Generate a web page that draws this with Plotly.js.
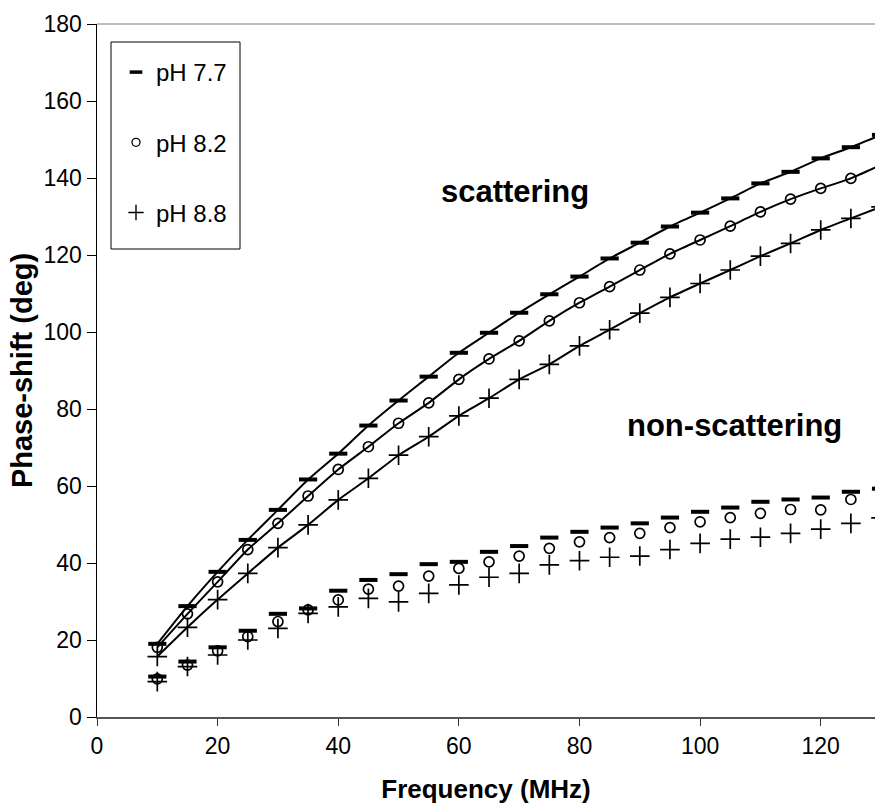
<!DOCTYPE html>
<html>
<head>
<meta charset="utf-8">
<script src="https://cdn.plot.ly/plotly-3.0.1.min.js"></script>
<style>
  html, body { margin: 0; padding: 0; background: #fff; }
  #chart { width: 875px; height: 806px; }
</style>
</head>
<body>
<div id="chart"></div>
<script>
// Frequency (MHz)
const freq = [10, 15, 20, 25, 30, 35, 40, 45, 50, 55, 60, 65, 70, 75, 80, 85, 90, 95, 100, 105, 110, 115, 120, 125, 130];

// Scattering medium, phase shift (deg)
const scatPH77 = [19.0, 28.8, 37.7, 46.0, 53.8, 61.7, 68.4, 75.7, 82.2, 88.4, 94.6, 99.8, 105.0, 109.8, 114.4, 119.1, 123.2, 127.4, 131.0, 134.7, 138.6, 141.6, 145.1, 148.0, 151.2];
const scatPH82 = [18.1, 26.8, 35.1, 43.5, 50.3, 57.4, 64.3, 70.2, 76.3, 81.6, 87.7, 93.0, 97.7, 102.9, 107.6, 111.8, 116.1, 120.3, 123.9, 127.5, 131.2, 134.5, 137.3, 139.9, 143.4];
const scatPH88 = [15.7, 23.3, 30.5, 37.3, 44.0, 49.9, 56.4, 62.0, 68.0, 72.8, 78.2, 82.8, 87.7, 91.6, 96.4, 100.6, 104.9, 109.0, 112.6, 116.1, 119.7, 123.0, 126.5, 129.5, 132.5];

// Non-scattering medium, phase shift (deg)
const nonPH77 = [10.5, 14.4, 18.1, 22.4, 26.8, 28.2, 32.8, 35.6, 37.1, 39.7, 40.3, 42.9, 44.4, 46.6, 48.1, 49.2, 50.3, 51.8, 53.3, 54.4, 55.9, 56.5, 57.0, 58.5, 59.3];
const nonPH82 = [9.9, 13.5, 17.2, 20.9, 24.8, 27.8, 30.4, 33.2, 34.0, 36.6, 38.6, 40.3, 41.8, 43.8, 45.5, 46.6, 47.7, 49.2, 50.7, 51.8, 52.9, 53.9, 53.8, 56.5, 57.5];
const nonPH88 = [9.2, 13.1, 16.1, 20.0, 23.0, 26.9, 28.6, 30.8, 29.9, 32.1, 34.3, 36.3, 37.3, 39.5, 40.6, 41.5, 41.8, 43.5, 45.1, 46.2, 46.7, 47.7, 48.8, 50.3, 51.7];

const seriesNames = ['pH 7.7', 'pH 8.2', 'pH 8.8'];
const xTicks = [0, 20, 40, 60, 80, 100, 120];
const yTicks = [0, 20, 40, 60, 80, 100, 120, 140, 160, 180];

const FONT = 'Liberation Sans, Arial, sans-serif';

const markerStyles = [
  { symbol: 'line-ew', size: 13, color: '#000', line: { color: '#000', width: 4 } },
  { symbol: 'circle-open', size: 10, color: '#000', line: { color: '#000', width: 1.7 } },
  { symbol: 'cross-thin-open', size: 14, color: '#000', line: { color: '#000', width: 1.7 } }
];
const legendMarkers = [
  { symbol: 'line-ew', size: 9, color: '#000', line: { color: '#000', width: 3.5 } },
  { symbol: 'circle-open', size: 8, color: '#000', line: { color: '#000', width: 1.3 } },
  { symbol: 'cross-thin-open', size: 11, color: '#000', line: { color: '#000', width: 1.4 } }
];

const scat = [scatPH77, scatPH82, scatPH88];
const non = [nonPH77, nonPH82, nonPH88];

const traces = [];
for (let i = 0; i < 3; i++) {
  traces.push({
    x: freq, y: scat[i], type: 'scatter', mode: 'lines+markers',
    line: { color: '#000', width: 2, shape: 'spline', smoothing: 0.5 },
    marker: markerStyles[i], showlegend: false, hoverinfo: 'x+y'
  });
  traces.push({
    x: freq, y: non[i], type: 'scatter', mode: 'markers',
    marker: markerStyles[i], showlegend: false, hoverinfo: 'x+y'
  });
}
// legend entries (marker-only)
for (let i = 0; i < 3; i++) {
  traces.push({
    x: [null], y: [null], type: 'scatter', mode: 'markers',
    name: seriesNames[i], marker: legendMarkers[i],
    legendgroup: 'g' + i, showlegend: true
  });
}

const W = 875, H = 806;
const mL = 97, mR = 0, mT = 24, mB = 89;
const pw = W - mL - mR, ph = H - mT - mB;
const px = v => (v - mL) / pw;
const py = v => 1 - (v - mT) / ph;

const layout = {
  width: W, height: H,
  margin: { l: mL, r: mR, t: mT, b: mB, pad: 0 },
  paper_bgcolor: '#fff', plot_bgcolor: '#fff',
  font: { family: FONT, color: '#000', size: 24 },
  xaxis: {
    range: [0, 129.0], tickvals: xTicks, ticktext: xTicks.map(String),
    ticks: 'outside', ticklen: 7, tickwidth: 1, tickcolor: '#333',
    showline: true, linecolor: '#555', linewidth: 2,
    showgrid: false, zeroline: false,
    tickfont: { family: FONT, size: 23, color: '#000' },
    title: { text: '<b>Frequency (MHz)</b>', font: { family: FONT, size: 26, color: '#000' }, standoff: 22 }
  },
  yaxis: {
    range: [0, 180], tickvals: yTicks, ticktext: yTicks.map(String),
    ticks: 'outside', ticklen: 9, tickwidth: 1, tickcolor: '#000',
    showline: true, linecolor: '#000', linewidth: 1.5,
    showgrid: false, zeroline: false,
    tickfont: { family: FONT, size: 23, color: '#000' },
    title: { text: '<b>Phase-shift (deg)</b>', font: { family: FONT, size: 29, color: '#000' }, standoff: 2 }
  },
  showlegend: true,
  legend: {
    x: px(116), y: py(50), xanchor: 'left', yanchor: 'top',
    bgcolor: 'rgba(0,0,0,0)', borderwidth: 0,
    font: { family: FONT, size: 24, color: '#000' },
    tracegroupgap: 36, traceorder: 'grouped', itemwidth: 30
  },
  shapes: [
    { type: 'line', xref: 'paper', yref: 'paper', x0: 0, x1: 1.02, y0: 1, y1: 1,
      line: { color: '#a6a6a6', width: 1.5 } },
    { type: 'rect', xref: 'paper', yref: 'paper',
      x0: px(111), x1: px(240), y0: py(42), y1: py(249),
      line: { color: '#000', width: 1 }, fillcolor: 'rgba(0,0,0,0)' }
  ],
  annotations: [
    { x: 69.3, y: 136.6, xref: 'x', yref: 'y', text: '<b>scattering</b>', showarrow: false,
      font: { family: FONT, size: 31, color: '#000' } },
    { x: 105.7, y: 75.6, xref: 'x', yref: 'y', text: '<b>non-scattering</b>', showarrow: false,
      font: { family: FONT, size: 31, color: '#000' } }
  ]
};

Plotly.newPlot('chart', traces, layout, { displayModeBar: false, staticPlot: true });
</script>
</body>
</html>
